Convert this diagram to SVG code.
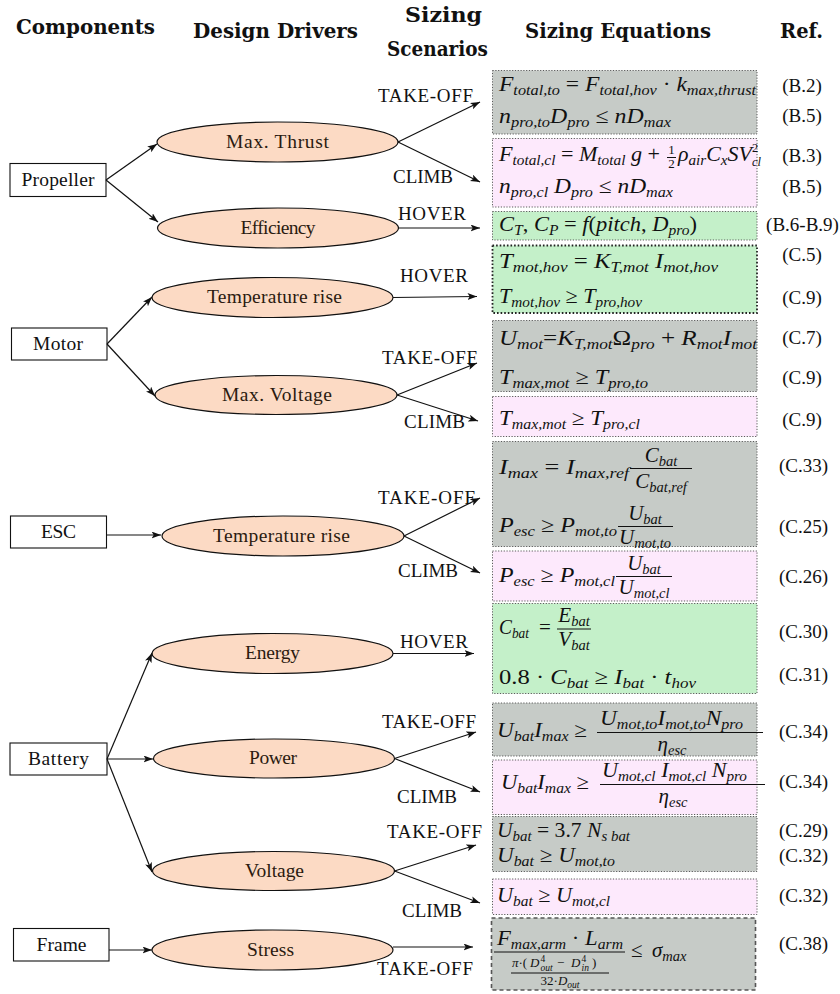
<svg xmlns="http://www.w3.org/2000/svg" width="840" height="994" viewBox="0 0 840 994">
  <style>
    .hd { font-family: "DejaVu Serif", "Liberation Serif", serif; font-weight: bold; font-size: 19.5px; fill: #111; }
    .lb { font-family: "Liberation Serif", "DejaVu Serif", serif; font-size: 19.5px; fill: #111; text-anchor: middle; }
    .cmp rect { fill: #fff; stroke: #111; stroke-width: 1.1; }
    .drv ellipse { fill: #fcdac4; stroke: #111; stroke-width: 1.2; }
    .drv text { fill: #2b1a10; }
    .sc { font-family: "Liberation Serif", "DejaVu Serif", serif; font-size: 19px; fill: #111; }
    .cn path { stroke: #111; stroke-width: 1.2; fill: none; marker-end: url(#arr); }
    .bx { stroke: #5a5a5a; stroke-width: 1; stroke-dasharray: 1.2 1.6; }
    .gy { fill: #c6cbc7; }
    .pk { fill: #fde9fc; }
    .gn { fill: #c4f0c9; }
    .eq { font-family: "Liberation Serif", "DejaVu Serif", serif; font-style: italic; font-size: 21px; fill: #111; }
    .u { font-style: normal; }
    .sb { font-size: 14.5px; }
    .sp { font-size: 12.5px; }
    .tn { font-size: 13px; }
    .xs { font-size: 9.5px; }
    .rf { font-family: "Liberation Serif", "DejaVu Serif", serif; font-size: 19px; fill: #111; text-anchor: middle; }
    .fb { stroke: #111; stroke-width: 1; }
  </style>
  <defs>
    <marker id="arr" markerUnits="userSpaceOnUse" markerWidth="11" markerHeight="8" refX="9.5" refY="3.5" orient="auto">
      <path d="M0,0 L9.5,3.5 L0,7 L2.2,3.5 z" fill="#111"/>
    </marker>
  </defs>

  <rect width="840" height="994" fill="#fff"/>

  <!-- column headings -->
  <g id="headings">
    <text class="hd" x="16" y="34" textLength="139" lengthAdjust="spacingAndGlyphs">Components</text>
    <text class="hd" x="193" y="38" textLength="165" lengthAdjust="spacingAndGlyphs">Design Drivers</text>
    <text class="hd" x="405" y="22" textLength="77" lengthAdjust="spacingAndGlyphs">Sizing</text>
    <text class="hd" x="387" y="56" textLength="101" lengthAdjust="spacingAndGlyphs">Scenarios</text>
    <text class="hd" x="525" y="38" textLength="186" lengthAdjust="spacingAndGlyphs">Sizing Equations</text>
    <text class="hd" x="780" y="38" textLength="43" lengthAdjust="spacingAndGlyphs">Ref.</text>
  </g>

  <!-- components -->
  <g id="propeller" class="cmp"><rect x="10" y="163.5" width="96" height="33"/><text class="lb" x="58" y="186" textLength="73">Propeller</text></g>
  <g id="motor" class="cmp"><rect x="11.5" y="328" width="95.5" height="32"/><text class="lb" x="58" y="350" textLength="50">Motor</text></g>
  <g id="esc" class="cmp"><rect x="10.5" y="516" width="96" height="32"/><text class="lb" x="58.5" y="538" textLength="35">ESC</text></g>
  <g id="battery" class="cmp"><rect x="10" y="743" width="97" height="32"/><text class="lb" x="58.5" y="765" textLength="61">Battery</text></g>
  <g id="frame" class="cmp"><rect x="13.5" y="928.5" width="95.5" height="32.5"/><text class="lb" x="61.5" y="951" textLength="50">Frame</text></g>

  <!-- design drivers -->
  <g id="max-thrust" class="drv"><ellipse cx="277.5" cy="142" rx="120.5" ry="20"/><text class="lb" x="277.5" y="148" textLength="103">Max.  Thrust</text></g>
  <g id="efficiency" class="drv"><ellipse cx="278" cy="228" rx="120.5" ry="20"/><text class="lb" x="278" y="234" textLength="75">Efficiency</text></g>
  <g id="motor-temperature" class="drv"><ellipse cx="272.5" cy="297.5" rx="120.5" ry="20"/><text class="lb" x="274.5" y="303" textLength="135">Temperature rise</text></g>
  <g id="max-voltage" class="drv"><ellipse cx="276" cy="395" rx="121" ry="19.5"/><text class="lb" x="277" y="401" textLength="110">Max.  Voltage</text></g>
  <g id="esc-temperature" class="drv"><ellipse cx="283" cy="536" rx="121" ry="20"/><text class="lb" x="281.5" y="542" textLength="137">Temperature rise</text></g>
  <g id="energy" class="drv"><ellipse cx="272.5" cy="653.5" rx="120.5" ry="20"/><text class="lb" x="272.5" y="659" textLength="55">Energy</text></g>
  <g id="power" class="drv"><ellipse cx="274" cy="758.5" rx="120.5" ry="19.5"/><text class="lb" x="273" y="764" textLength="48">Power</text></g>
  <g id="voltage" class="drv"><ellipse cx="273.5" cy="871" rx="121" ry="19.5"/><text class="lb" x="274.5" y="877" textLength="59">Voltage</text></g>
  <g id="stress" class="drv"><ellipse cx="272.5" cy="950" rx="120.5" ry="20"/><text class="lb" x="270.5" y="956" textLength="47">Stress</text></g>

  <!-- connectors -->
  <g id="connectors" class="cn">
    <path d="M106,180 L157,144"/>
    <path d="M106,180 L158,222"/>
    <path d="M107,344 L152,297"/>
    <path d="M107,344 L155,396"/>
    <path d="M107,535 L161,535"/>
    <path d="M107,759 L152,653"/>
    <path d="M107,759 L153,759"/>
    <path d="M107,759 L152,872"/>
    <path d="M109,950 L152,950"/>

    <path d="M398,142 L480,102"/>
    <path d="M398,142 L480,182"/>
    <path d="M398.5,228 L480,228"/>
    <path d="M393,297.5 L477,296.5"/>
    <path d="M397,395 L477,363"/>
    <path d="M397,395 L478,421"/>
    <path d="M404,536 L480,498"/>
    <path d="M404,536 L480,573"/>
    <path d="M393,653.5 L474,653.5"/>
    <path d="M394.5,758.5 L476,732"/>
    <path d="M394.5,758.5 L480,792"/>
    <path d="M394.5,871 L476,845"/>
    <path d="M394.5,871 L480,903"/>
    <path d="M393,947 L473,947"/>
  </g>

  <!-- scenario labels -->
  <g id="scenarios">
    <text class="sc" x="378" y="102" textLength="95">TAKE-OFF</text>
    <text class="sc" x="393" y="183" textLength="60">CLIMB</text>
    <text class="sc" x="398" y="220" textLength="68">HOVER</text>
    <text class="sc" x="400" y="282" textLength="68">HOVER</text>
    <text class="sc" x="382" y="364" textLength="95">TAKE-OFF</text>
    <text class="sc" x="404" y="428" textLength="61">CLIMB</text>
    <text class="sc" x="378" y="504" textLength="97">TAKE-OFF</text>
    <text class="sc" x="398" y="577" textLength="60">CLIMB</text>
    <text class="sc" x="400" y="648" textLength="68">HOVER</text>
    <text class="sc" x="382" y="728" textLength="94">TAKE-OFF</text>
    <text class="sc" x="397" y="803" textLength="60">CLIMB</text>
    <text class="sc" x="387" y="838" textLength="95">TAKE-OFF</text>
    <text class="sc" x="402" y="917" textLength="60">CLIMB</text>
    <text class="sc" x="377" y="975" textLength="96">TAKE-OFF</text>
  </g>

  <!-- equation boxes -->
  <g id="equation-boxes">
    <rect class="bx gy" x="492.5" y="70.5" width="264.5" height="63.5"/>
    <rect class="bx pk" x="492.5" y="138.5" width="264.5" height="68.5"/>
    <rect class="bx gn" x="492.5" y="211.5" width="264.5" height="28.5"/>
    <rect class="gn" x="492.5" y="245.5" width="264.5" height="67.5" stroke="#222" stroke-width="1.8" stroke-dasharray="1.6 2"/>
    <rect class="bx gy" x="492.5" y="320.5" width="264.5" height="71"/>
    <rect class="bx pk" x="492.5" y="396.5" width="264.5" height="40"/>
    <rect class="bx gy" x="492.5" y="441.5" width="264.5" height="105"/>
    <rect class="bx pk" x="492.5" y="551" width="264.5" height="50"/>
    <rect class="bx gn" x="492.5" y="603.5" width="264.5" height="90"/>
    <rect class="bx gy" x="492.5" y="703" width="264.5" height="53"/>
    <rect class="bx pk" x="492.5" y="760" width="264.5" height="54.5"/>
    <rect class="bx gy" x="492.5" y="816.5" width="264.5" height="55"/>
    <rect class="bx pk" x="492.5" y="879" width="264.5" height="35.5"/>
    <rect class="gy" x="491.5" y="918" width="264" height="72" stroke="#555" stroke-width="1.6" stroke-dasharray="4 3"/>
  </g>

  <!-- equations -->
  <g id="equations">
    <text class="eq" x="499" y="91" textLength="257" lengthAdjust="spacingAndGlyphs">F<tspan class="sb" dy="4">total,to</tspan><tspan class="u" dy="-4"> = </tspan>F<tspan class="sb" dy="4">total,hov</tspan><tspan class="u" dy="-4"> · </tspan>k<tspan class="sb" dy="4">max,thrust</tspan></text>
    <text class="eq" x="499" y="123" textLength="172" lengthAdjust="spacingAndGlyphs">n<tspan class="sb" dy="4">pro,to</tspan><tspan dy="-4">D</tspan><tspan class="sb" dy="4">pro</tspan><tspan class="u" dy="-4"> ≤ </tspan>nD<tspan class="sb" dy="4">max</tspan></text>

    <text class="eq" x="499" y="161" textLength="161" lengthAdjust="spacingAndGlyphs">F<tspan class="sb" dy="4">total,cl</tspan><tspan class="u" dy="-4"> = </tspan>M<tspan class="sb" dy="4">total</tspan><tspan dy="-4"> g </tspan><tspan class="u">+</tspan></text>
    <text class="eq u tn" x="671.5" y="154" text-anchor="middle">1</text>
    <line class="fb" x1="667" y1="157.5" x2="676" y2="157.5" stroke-width="0.8"/>
    <text class="eq u tn" x="671.5" y="168" text-anchor="middle">2</text>
    <text class="eq" x="678" y="161" textLength="74" lengthAdjust="spacingAndGlyphs">ρ<tspan class="sb" dy="4">air</tspan><tspan dy="-4">C</tspan><tspan class="sb" dy="4">x</tspan><tspan dy="-4">SV</tspan></text>
    <text class="eq u sp" x="752" y="152">2</text>
    <text class="eq sp" x="752" y="166">cl</text>
    <text class="eq" x="499" y="193" textLength="174" lengthAdjust="spacingAndGlyphs">n<tspan class="sb" dy="4">pro,cl</tspan><tspan dy="-4"> D</tspan><tspan class="sb" dy="4">pro</tspan><tspan class="u" dy="-4"> ≤ </tspan>nD<tspan class="sb" dy="4">max</tspan></text>

    <text class="eq" x="499" y="231" textLength="198" lengthAdjust="spacingAndGlyphs">C<tspan class="sb" dy="4">T</tspan><tspan class="u" dy="-4">, </tspan>C<tspan class="sb" dy="4">P</tspan><tspan class="u" dy="-4"> = </tspan>f<tspan class="u">(</tspan>pitch<tspan class="u">, </tspan>D<tspan class="sb" dy="4">pro</tspan><tspan class="u" dy="-4">)</tspan></text>

    <text class="eq" x="499" y="268" textLength="219" lengthAdjust="spacingAndGlyphs">T<tspan class="sb" dy="4">mot,hov</tspan><tspan class="u" dy="-4"> = </tspan>K<tspan class="sb" dy="4">T,mot</tspan><tspan dy="-4"> I</tspan><tspan class="sb" dy="4">mot,hov</tspan></text>
    <text class="eq" x="499" y="303" textLength="143" lengthAdjust="spacingAndGlyphs">T<tspan class="sb" dy="4">mot,hov</tspan><tspan class="u" dy="-4"> ≥ </tspan>T<tspan class="sb" dy="4">pro,hov</tspan></text>

    <text class="eq" x="499" y="345" textLength="258" lengthAdjust="spacingAndGlyphs">U<tspan class="sb" dy="4">mot</tspan><tspan class="u" dy="-4">=</tspan>K<tspan class="sb" dy="4">T,mot</tspan><tspan class="u" dy="-4">Ω</tspan><tspan class="sb" dy="4">pro</tspan><tspan class="u" dy="-4"> + </tspan>R<tspan class="sb" dy="4">mot</tspan><tspan dy="-4">I</tspan><tspan class="sb" dy="4">mot</tspan></text>
    <text class="eq" x="499" y="384" textLength="149" lengthAdjust="spacingAndGlyphs">T<tspan class="sb" dy="4">max,mot</tspan><tspan class="u" dy="-4"> ≥ </tspan>T<tspan class="sb" dy="4">pro,to</tspan></text>
    <text class="eq" x="499" y="425" textLength="141" lengthAdjust="spacingAndGlyphs">T<tspan class="sb" dy="4">max,mot</tspan><tspan class="u" dy="-4"> ≥ </tspan>T<tspan class="sb" dy="4">pro,cl</tspan></text>

    <text class="eq" x="499" y="474" textLength="130" lengthAdjust="spacingAndGlyphs">I<tspan class="sb" dy="4">max</tspan><tspan class="u" dy="-4"> = </tspan>I<tspan class="sb" dy="4">max,ref</tspan></text>
    <text class="eq" x="661" y="462" text-anchor="middle">C<tspan class="sb" dy="4">bat</tspan></text>
    <line class="fb" x1="630" y1="468.5" x2="692" y2="468.5"/>
    <text class="eq" x="661" y="488" text-anchor="middle">C<tspan class="sb" dy="4">bat,ref</tspan></text>

    <text class="eq" x="499" y="532" textLength="118" lengthAdjust="spacingAndGlyphs">P<tspan class="sb" dy="4">esc</tspan><tspan class="u" dy="-4"> ≥ </tspan>P<tspan class="sb" dy="4">mot,to</tspan></text>
    <text class="eq" x="645" y="520" text-anchor="middle">U<tspan class="sb" dy="4">bat</tspan></text>
    <line class="fb" x1="618" y1="526.5" x2="673" y2="526.5"/>
    <text class="eq" x="645" y="544" text-anchor="middle">U<tspan class="sb" dy="4">mot,to</tspan></text>

    <text class="eq" x="499" y="582" textLength="116" lengthAdjust="spacingAndGlyphs">P<tspan class="sb" dy="4">esc</tspan><tspan class="u" dy="-4"> ≥ </tspan>P<tspan class="sb" dy="4">mot,cl</tspan></text>
    <text class="eq" x="644" y="570" text-anchor="middle">U<tspan class="sb" dy="4">bat</tspan></text>
    <line class="fb" x1="616" y1="576.5" x2="672" y2="576.5"/>
    <text class="eq" x="644" y="594" text-anchor="middle">U<tspan class="sb" dy="4">mot,cl</tspan></text>

    <text class="eq" x="499" y="634" textLength="30" lengthAdjust="spacingAndGlyphs">C<tspan class="sb" dy="4">bat</tspan></text>
    <text class="eq u" x="539" y="634">=</text>
    <text class="eq" x="574" y="622" text-anchor="middle">E<tspan class="sb" dy="4">bat</tspan></text>
    <line class="fb" x1="557" y1="629" x2="591" y2="629"/>
    <text class="eq" x="574" y="646" text-anchor="middle">V<tspan class="sb" dy="4">bat</tspan></text>
    <text class="eq" x="499" y="684" textLength="197" lengthAdjust="spacingAndGlyphs"><tspan class="u">0.8 · </tspan>C<tspan class="sb" dy="4">bat</tspan><tspan class="u" dy="-4"> ≥ </tspan>I<tspan class="sb" dy="4">bat</tspan><tspan class="u" dy="-4"> · </tspan>t<tspan class="sb" dy="4">hov</tspan></text>

    <text class="eq" x="497" y="737" textLength="90" lengthAdjust="spacingAndGlyphs">U<tspan class="sb" dy="4">bat</tspan><tspan dy="-4">I</tspan><tspan class="sb" dy="4">max</tspan><tspan class="u" dy="-4"> ≥</tspan></text>
    <text class="eq" x="600" y="725" textLength="143" lengthAdjust="spacingAndGlyphs">U<tspan class="sb" dy="4">mot,to</tspan><tspan dy="-4">I</tspan><tspan class="sb" dy="4">mot,to</tspan><tspan dy="-4">N</tspan><tspan class="sb" dy="4">pro</tspan></text>
    <line class="fb" x1="597" y1="732.5" x2="763" y2="732.5"/>
    <text class="eq" x="672" y="751" text-anchor="middle">η<tspan class="sb" dy="4">esc</tspan></text>

    <text class="eq" x="501" y="789" textLength="88" lengthAdjust="spacingAndGlyphs">U<tspan class="sb" dy="4">bat</tspan><tspan dy="-4">I</tspan><tspan class="sb" dy="4">max</tspan><tspan class="u" dy="-4"> ≥</tspan></text>
    <text class="eq" x="602" y="777" textLength="145" lengthAdjust="spacingAndGlyphs">U<tspan class="sb" dy="4">mot,cl</tspan><tspan dy="-4"> I</tspan><tspan class="sb" dy="4">mot,cl</tspan><tspan dy="-4"> N</tspan><tspan class="sb" dy="4">pro</tspan></text>
    <line class="fb" x1="600" y1="784.5" x2="765" y2="784.5"/>
    <text class="eq" x="673" y="803" text-anchor="middle">η<tspan class="sb" dy="4">esc</tspan></text>

    <text class="eq" x="497" y="837" textLength="133" lengthAdjust="spacingAndGlyphs">U<tspan class="sb" dy="4">bat</tspan><tspan class="u" dy="-4"> = 3.7 </tspan>N<tspan class="sb" dy="4">s bat</tspan></text>
    <text class="eq" x="497" y="862" textLength="118" lengthAdjust="spacingAndGlyphs">U<tspan class="sb" dy="4">bat</tspan><tspan class="u" dy="-4"> ≥ </tspan>U<tspan class="sb" dy="4">mot,to</tspan></text>
    <text class="eq" x="497" y="902" textLength="113" lengthAdjust="spacingAndGlyphs">U<tspan class="sb" dy="4">bat</tspan><tspan class="u" dy="-4"> ≥ </tspan>U<tspan class="sb" dy="4">mot,cl</tspan></text>

    <!-- arm bending stress: F·L / (π(Do^4 - Di^4) / (32 Do)) -->
    <text class="eq" x="497" y="945" textLength="126" lengthAdjust="spacingAndGlyphs">F<tspan class="sb" dy="4">max,arm</tspan><tspan class="u" dy="-4"> · </tspan>L<tspan class="sb" dy="4">arm</tspan></text>
    <line class="fb" x1="494" y1="952" x2="625" y2="952"/>
    <text class="eq u" x="631" y="957">≤</text>
    <text class="eq" x="652" y="957">σ<tspan class="sb" dy="4">max</tspan></text>
    <text class="eq tn" x="512" y="967">π<tspan class="u">·(</tspan></text>
    <text class="eq tn" x="530" y="967">D</text>
    <text class="eq xs u" x="540.5" y="962">4</text>
    <text class="eq xs" x="540.5" y="971">out</text>
    <text class="eq tn u" x="557" y="967">−</text>
    <text class="eq tn" x="571" y="967">D</text>
    <text class="eq xs u" x="581.5" y="962">4</text>
    <text class="eq xs" x="581.5" y="971">in</text>
    <text class="eq tn u" x="592" y="967">)</text>
    <line class="fb" x1="511" y1="973" x2="609" y2="973" stroke-width="0.8"/>
    <text class="eq tn" x="560" y="985" text-anchor="middle"><tspan class="u">32·</tspan>D<tspan class="xs" dy="2.5">out</tspan></text>
  </g>

  <!-- equation references -->
  <g id="references">
    <text class="rf" x="802" y="92">(B.2)</text>
    <text class="rf" x="802" y="122">(B.5)</text>
    <text class="rf" x="802" y="162">(B.3)</text>
    <text class="rf" x="802" y="193">(B.5)</text>
    <text class="rf" x="802.5" y="231">(B.6-B.9)</text>
    <text class="rf" x="802" y="261">(C.5)</text>
    <text class="rf" x="802" y="304">(C.9)</text>
    <text class="rf" x="802" y="344">(C.7)</text>
    <text class="rf" x="802" y="384">(C.9)</text>
    <text class="rf" x="802" y="426">(C.9)</text>
    <text class="rf" x="803.5" y="472">(C.33)</text>
    <text class="rf" x="803.5" y="533">(C.25)</text>
    <text class="rf" x="803.5" y="583">(C.26)</text>
    <text class="rf" x="803.5" y="638">(C.30)</text>
    <text class="rf" x="803.5" y="681">(C.31)</text>
    <text class="rf" x="803.5" y="738">(C.34)</text>
    <text class="rf" x="803.5" y="788">(C.34)</text>
    <text class="rf" x="803.5" y="837">(C.29)</text>
    <text class="rf" x="803.5" y="862">(C.32)</text>
    <text class="rf" x="803.5" y="902">(C.32)</text>
    <text class="rf" x="803.5" y="950">(C.38)</text>
  </g>
</svg>
